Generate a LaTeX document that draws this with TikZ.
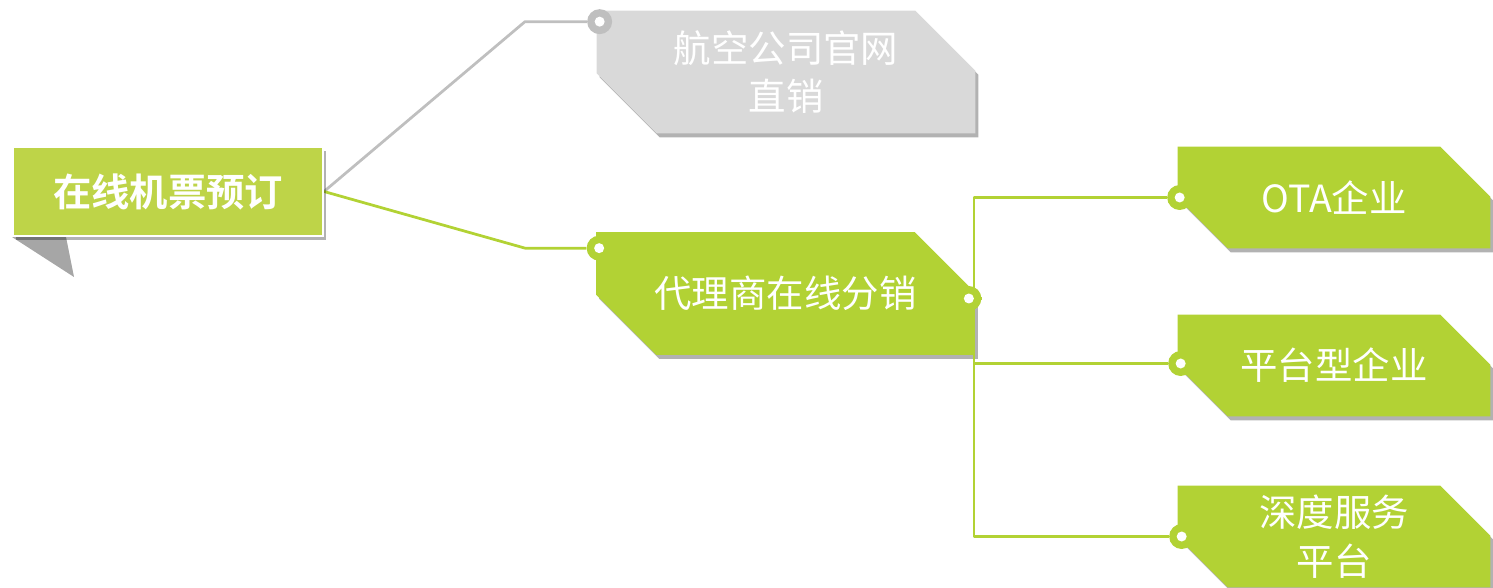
\documentclass[tikz,border=0pt]{standalone}
\usepackage{fontspec}
\newfontfamily\cjk{Noto Sans CJK SC}
\newfontfamily\cjkbold{Noto Sans CJK SC Bold}
\usetikzlibrary{positioning, shadows}
\definecolor{rootgreen}{RGB}{190,212,72}
\definecolor{leafgreen}{RGB}{178,210,52}
\definecolor{tagGray}{RGB}{217,217,217}
\definecolor{lineGray}{RGB}{191,191,191}
\definecolor{foldGray}{RGB}{166,166,166}

\pgfdeclarelayer{tags}
\pgfdeclarelayer{links}
\pgfsetlayers{tags,links,main}

% tag with cut corners, drawn behind a node
\newcommand{\tagshape}[3]{%
  \fill[#3, tag shadow] (#1.north west) -- ([xshift=-#2]#1.north east)
    -- ([yshift=-#2]#1.north east) -- (#1.south east)
    -- ([xshift=#2]#1.south west) -- ([yshift=#2]#1.south west) -- cycle;}

\begin{document}
\begin{tikzpicture}[on grid,
    tagtext/.style={text=white, font=\cjk\fontsize{21.3}{27.5}\selectfont, align=center, inner sep=0pt},
    bigtag/.style={tagtext, minimum width=7.56cm, minimum height=2.44cm},
    smalltag/.style={tagtext, minimum width=6.24cm, minimum height=2.02cm},
    rootbox/.style={fill=rootgreen, draw=white, line width=0.04cm, minimum width=6.2cm, minimum height=1.78cm,
      text=white, font=\cjkbold\fontsize{21.8}{25}\selectfont,
      drop shadow={shadow xshift=0.06cm, shadow yshift=-0.08cm, fill=black, opacity=0.3}},
    ring/.style={circle, fill=#1, minimum size=0.5cm, inner sep=0pt,
      path picture={\fill[white] (path picture bounding box.center) circle (0.1cm);}},
    link/.style={draw=#1, line width=0.055cm, line join=round},
    tag shadow/.style={drop shadow={shadow xshift=0.06cm, shadow yshift=-0.08cm, fill=black, opacity=0.3}}]
  \useasboundingbox (0,0) rectangle (29.86,-11.76);

  \node[rootbox] (root) at (3.36,-3.83) {在线机票预订};
  \node[bigtag, above right=2.39cm and 12.36cm of root] (direct) {航空公司官网\\直销};
  \node[bigtag, below right=2.04cm and 12.35cm of root] (agent) {代理商在线分销};
  \node[smalltag, above right=1.92cm and 10.97cm of agent] (ota) {OTA企业};
  \node[smalltag, below=3.36cm of ota] (platform) {平台型企业};
  \node[smalltag, below=3.42cm of platform] (deep) {深度服务\\平台};

  \node[ring=lineGray] (dDirect) at ([xshift=0.06cm, yshift=-0.22cm]direct.north west) {};
  \node[ring=leafgreen] (dAgent) at ([xshift=0.06cm, yshift=-0.32cm]agent.north west) {};
  \node[ring=leafgreen] (dAgentOut) at ([xshift=-0.12cm, yshift=-0.1cm]agent.east) {};
  \node[ring=leafgreen] (dOta) at ([xshift=0.04cm]ota.west) {};
  \node[ring=leafgreen] (dPlatform) at ([xshift=0.06cm, yshift=0.04cm]platform.west) {};
  \node[ring=leafgreen] (dDeep) at ([xshift=0.08cm]deep.west) {};

  \begin{pgfonlayer}{tags}
    \fill[foldGray] (root.south west) -- ++(1.08,0) -- ++(0.16,-0.8) -- cycle;
    \tagshape{direct}{1.2cm}{tagGray}
    \tagshape{agent}{1.2cm}{leafgreen}
    \tagshape{ota}{1cm}{leafgreen}
    \tagshape{platform}{1cm}{leafgreen}
    \tagshape{deep}{1cm}{leafgreen}
  \end{pgfonlayer}

  \begin{pgfonlayer}{links}
    \coordinate (bend) at (10.5,0);
    \coordinate (fork) at (19.48,0);
    \draw[link=lineGray] (root.east) -- (bend |- dDirect) -- (dDirect);
    \draw[link=leafgreen] (root.east) -- (bend |- dAgent) -- (dAgent);
    \draw[link=leafgreen] (dAgentOut) -- (fork |- dAgentOut);
    \draw[link=leafgreen] (dOta) -- (fork |- dOta) -- (fork |- dDeep) -- (dDeep);
    \draw[link=leafgreen] (fork |- dPlatform) -- (dPlatform);
  \end{pgfonlayer}
\end{tikzpicture}
\end{document}
